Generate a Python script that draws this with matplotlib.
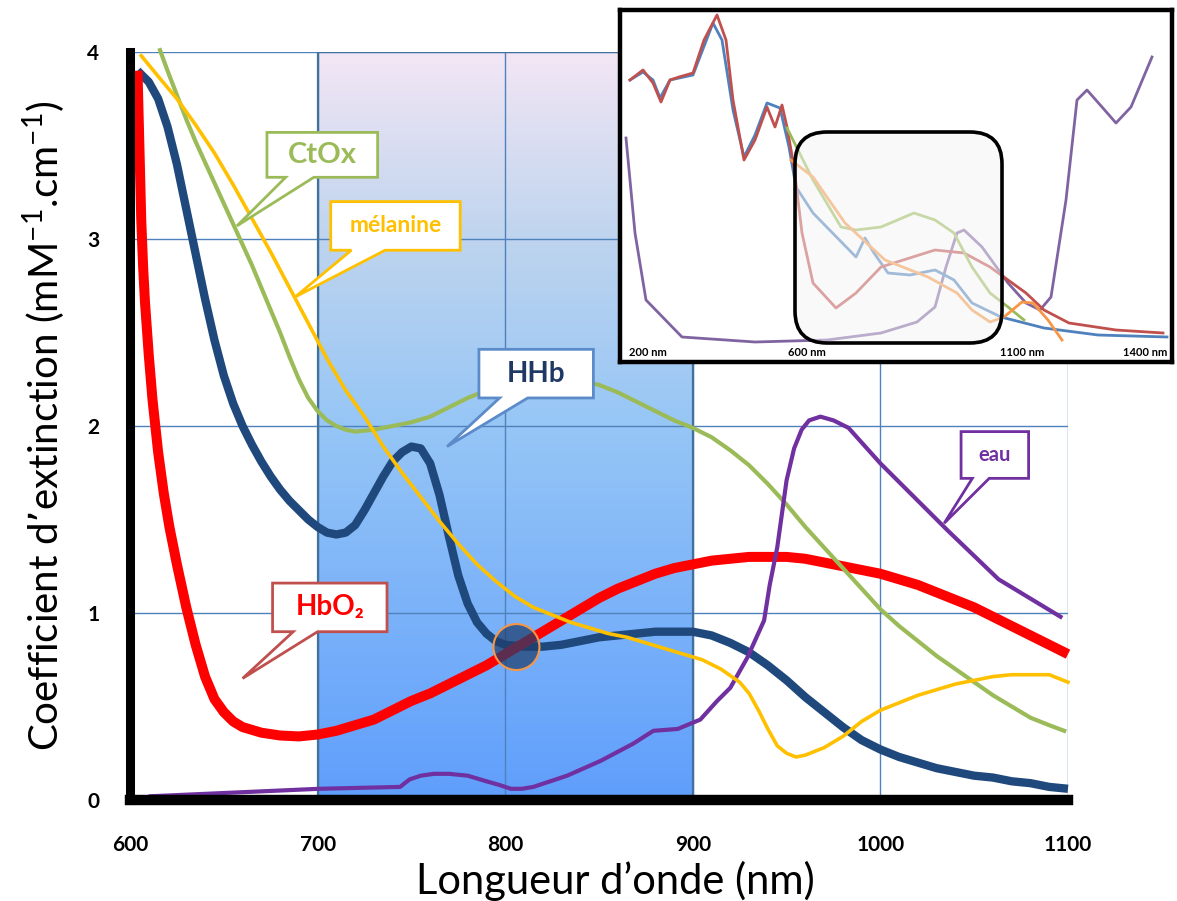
import matplotlib.pyplot as plt
import numpy as np
from matplotlib.patches import Ellipse, Polygon, FancyBboxPatch

plt.rcParams['font.family'] = ['Lato', 'DejaVu Sans']

# ---- main chart data: wavelength (nm) / extinction coefficient (mM-1.cm-1)
hhb_nm = [604, 610, 615, 620, 625, 630, 635, 640, 645, 650, 655, 660, 665, 670, 675, 680, 685, 690,
          695, 700, 705, 710, 715, 720, 725, 730, 735, 740, 745, 750, 755, 760, 765, 770, 775, 780,
          785, 790, 795, 800, 810, 820, 830, 840, 850, 860, 870, 880, 890, 900, 910, 920, 930, 940,
          950, 960, 970, 980, 990, 1000, 1010, 1020, 1030, 1040, 1050, 1060, 1070, 1080, 1090, 1100]
hhb_val = [3.90, 3.84, 3.75, 3.60, 3.40, 3.16, 2.92, 2.68, 2.46, 2.27, 2.12, 2.00, 1.90, 1.81, 1.73,
           1.66, 1.60, 1.55, 1.50, 1.46, 1.43, 1.42, 1.43, 1.47, 1.55, 1.64, 1.73, 1.81, 1.86, 1.89,
           1.88, 1.80, 1.63, 1.41, 1.20, 1.05, 0.95, 0.89, 0.85, 0.83, 0.82, 0.82, 0.83, 0.85, 0.87,
           0.88, 0.89, 0.90, 0.90, 0.90, 0.88, 0.84, 0.79, 0.72, 0.64, 0.55, 0.47, 0.39, 0.32, 0.27,
           0.23, 0.20, 0.17, 0.15, 0.13, 0.12, 0.10, 0.09, 0.07, 0.06]

hbo2_nm = [604, 605, 606, 607, 608, 610, 612, 615, 618, 621, 625, 630, 635, 640, 645, 650, 655, 660,
           670, 680, 690, 700, 710, 720, 730, 740, 750, 760, 770, 780, 790, 800, 810, 820, 830, 840,
           850, 860, 870, 880, 890, 900, 910, 920, 930, 940, 950, 960, 970, 980, 990, 1000, 1010,
           1020, 1030, 1040, 1050, 1060, 1070, 1080, 1090, 1100]
hbo2_val = [3.90, 3.50, 3.10, 2.85, 2.66, 2.38, 2.14, 1.86, 1.64, 1.46, 1.26, 1.03, 0.83, 0.66, 0.54,
            0.47, 0.42, 0.39, 0.36, 0.345, 0.34, 0.35, 0.37, 0.40, 0.43, 0.48, 0.53, 0.57, 0.62,
            0.67, 0.72, 0.78, 0.84, 0.90, 0.96, 1.02, 1.08, 1.13, 1.17, 1.21, 1.24, 1.26, 1.28, 1.29,
            1.30, 1.30, 1.30, 1.29, 1.27, 1.25, 1.23, 1.21, 1.18, 1.15, 1.11, 1.07, 1.03, 0.98, 0.93,
            0.88, 0.83, 0.78]

ctox_nm = [616, 620, 625, 630, 635, 640, 645, 650, 655, 660, 665, 670, 675, 680, 685, 690, 695, 700,
           705, 710, 715, 720, 730, 740, 750, 760, 770, 780, 790, 800, 810, 820, 830, 840, 850, 860,
           870, 880, 890, 900, 910, 920, 930, 940, 950, 960, 970, 980, 990, 1000, 1010, 1020, 1030,
           1040, 1050, 1060, 1070, 1080, 1090, 1098]
ctox_val = [4.01, 3.90, 3.77, 3.64, 3.52, 3.41, 3.30, 3.19, 3.08, 2.97, 2.86, 2.74, 2.62, 2.50, 2.37,
            2.25, 2.15, 2.08, 2.03, 2.00, 1.98, 1.97, 1.98, 2.00, 2.02, 2.05, 2.10, 2.15, 2.19, 2.22,
            2.24, 2.25, 2.25, 2.24, 2.22, 2.18, 2.13, 2.08, 2.03, 1.99, 1.94, 1.87, 1.79, 1.69, 1.58,
            1.46, 1.35, 1.24, 1.13, 1.02, 0.93, 0.85, 0.77, 0.70, 0.63, 0.56, 0.50, 0.44, 0.40, 0.37]

mel_nm = [606, 615, 625, 635, 645, 655, 665, 675, 685, 695, 705, 715, 725, 735, 745, 755, 765, 775,
          785, 795, 805, 815, 825, 835, 845, 855, 865, 875, 885, 895, 905, 915, 925, 930, 935, 940,
          945, 950, 955, 960, 970, 980, 990, 1000, 1010, 1020, 1030, 1040, 1050, 1060, 1070, 1080,
          1090, 1100]
mel_val = [3.98, 3.87, 3.75, 3.61, 3.46, 3.29, 3.11, 2.93, 2.74, 2.55, 2.36, 2.19, 2.05, 1.89, 1.75,
           1.62, 1.49, 1.37, 1.26, 1.17, 1.09, 1.03, 0.99, 0.95, 0.92, 0.89, 0.87, 0.84, 0.81, 0.78,
           0.75, 0.70, 0.63, 0.57, 0.48, 0.38, 0.29, 0.25, 0.23, 0.24, 0.28, 0.34, 0.42, 0.48, 0.52,
           0.56, 0.59, 0.62, 0.64, 0.66, 0.67, 0.67, 0.67, 0.63]

eau_nm = [611, 701, 744, 749, 755, 762, 770, 780, 790, 797, 803, 809, 815, 824, 833, 851, 868, 879,
          892, 904, 913, 920, 929, 938, 941, 945, 950, 954, 958, 962, 968, 975, 983, 1000, 1018,
          1036, 1063, 1096]
eau_val = [0.02, 0.06, 0.07, 0.11, 0.13, 0.14, 0.14, 0.13, 0.10, 0.08, 0.06, 0.06, 0.07, 0.10, 0.13,
           0.21, 0.30, 0.37, 0.38, 0.43, 0.53, 0.60, 0.76, 0.96, 1.15, 1.35, 1.71, 1.88, 1.98, 2.03,
           2.05, 2.03, 1.99, 1.80, 1.62, 1.44, 1.18, 0.98]

x_ticks = [600, 700, 800, 900, 1000, 1100]
y_ticks = [0, 1, 2, 3, 4]
window_nm = [700, 900]

# ---- inset data (relative position units across the inset, 0 = left / bottom)
ins_hbo2_x = [10, 23, 33, 41, 50, 59, 73, 84, 97, 106, 113, 124, 135, 147, 155, 162, 167, 174, 182,
              193, 216, 236, 261, 315, 344, 370, 406, 424, 449, 496, 543]
ins_hbo2_y = [282, 292, 279, 260, 282, 285, 289, 322, 347, 322, 262, 202, 222, 255, 235, 257, 235, 195,
              129, 79, 54, 69, 95, 112, 109, 95, 69, 52, 39, 32, 29]
ins_hhb_x = [10, 23, 33, 40, 50, 73, 93, 102, 113, 124, 135, 147, 160, 169, 176, 193, 236, 245, 254,
             268, 290, 315, 334, 352, 381, 424, 478, 547]
ins_hhb_y = [282, 290, 282, 264, 282, 287, 339, 322, 252, 205, 227, 259, 254, 215, 175, 149, 105, 124,
             109, 89, 87, 92, 82, 59, 45, 34, 27, 25]
ins_ctox_x = [167, 193, 221, 236, 261, 294, 315, 334, 352, 370, 388, 404]
ins_ctox_y = [234, 182, 135, 132, 135, 149, 142, 129, 95, 69, 55, 42]
ins_mel_x = [171, 193, 225, 265, 308, 337, 352, 370, 384, 402, 413, 428, 442]
ins_mel_y = [202, 185, 139, 102, 85, 69, 52, 40, 45, 60, 59, 42, 22]
ins_eau_x = [6, 15, 26, 62, 135, 207, 261, 297, 315, 326, 337, 344, 362, 388, 406, 420, 431, 446, 457,
             467, 482, 496, 511, 532]
ins_eau_y = [224, 129, 62, 25, 20, 22, 29, 40, 55, 95, 129, 132, 115, 79, 59, 52, 65, 162, 262, 272,
             255, 239, 255, 305]
ins_labels = ['200 nm', '600 nm', '1100 nm', '1400 nm']
ins_label_x = [28, 187, 402, 525]

fig = plt.figure(figsize=(11.77, 9.01), dpi=100)
ax = fig.add_axes([130 / 1177, 101 / 901, 938 / 1177, 748 / 901])
ax.set_xlim(600, 1100)
ax.set_ylim(0, 4)

# optical window gradient
stops = np.array([[95, 158, 252], [150, 198, 246], [190, 212, 238], [243, 230, 245]]) / 255
t = np.linspace(0, 1, 256)
grad = np.stack([np.interp(t, [0, 0.5, 0.75, 1], stops[:, k]) for k in range(3)], axis=1)
ax.imshow(grad[:, None, :], extent=[window_nm[0], window_nm[1], 0, 4], origin='lower',
          aspect='auto', zorder=0.5)
ax.plot([window_nm[0], window_nm[0], window_nm[1], window_nm[1]], [0, 4, 4, 0],
        color='#41719c', lw=1.6, zorder=1.2)

ax.set_xticks(x_ticks)
ax.set_yticks(y_ticks)
ax.grid(True, color='#4f81bd', lw=1.0, zorder=1)
ax.set_axisbelow(True)
ax.tick_params(length=0, labelsize=15)
ax.tick_params(axis='x', pad=25)
ax.tick_params(axis='y', pad=22)
for lab in ax.get_xticklabels() + ax.get_yticklabels():
    lab.set_fontweight('bold')

for s in ['top', 'right']:
    ax.spines[s].set_visible(False)
ax.spines['left'].set_linewidth(6.5)
ax.spines['bottom'].set_linewidth(7.5)
for s in ['left', 'bottom']:
    ax.spines[s].set_capstyle('projecting')
    ax.spines[s].set_zorder(8)

ax.plot(hhb_nm, hhb_val, color='#1f497d', lw=6, zorder=2, solid_capstyle='butt', clip_on=False)
ax.plot(hbo2_nm, hbo2_val, color='#ff0000', lw=7.2, zorder=3, solid_capstyle='butt', clip_on=False)
ax.plot(ctox_nm, ctox_val, color='#9bbb59', lw=3, zorder=4, clip_on=False)
ax.plot(eau_nm, eau_val, color='#7030a0', lw=3, zorder=5, clip_on=False)
ax.plot(mel_nm, mel_val, color='#ffc000', lw=2.6, zorder=6, clip_on=False)

ax.add_patch(Ellipse((806, 0.818), 24.5, 0.246, facecolor='#1f3f6e', alpha=0.72,
                     edgecolor='none', zorder=7))
ax.add_patch(Ellipse((806, 0.818), 24.5, 0.246, facecolor='none', edgecolor='#f79646',
                     lw=1.5, zorder=7))


def callout(x0, x1, y0, y1, b0, b1, tip, text, edge, tcolor, size):
    pts = [(x0, y1), (x1, y1), (x1, y0), (b1, y0), tip, (b0, y0), (x0, y0)]
    ax.add_patch(Polygon(pts, closed=True, facecolor='white', edgecolor=edge, lw=2,
                         joinstyle='miter', zorder=9))
    ax.text((x0 + x1) / 2, (y0 + y1) / 2, text, color=tcolor, fontsize=size,
            fontweight='bold', ha='center', va='center', zorder=10)


callout(673, 732, 3.33, 3.57, 683, 698, (657, 3.07), 'CtOx', '#9bbb59', '#9bbb59', 21)
callout(707, 776, 2.94, 3.20, 718, 736, (688, 2.69), 'mélanine', '#ffc000', '#ffc000', 16.5)
callout(786, 847, 2.15, 2.41, 797, 812, (769, 1.89), 'HHb', '#5b8bc9', '#1f3864', 20)
callout(676, 737, 0.90, 1.16, 687, 700, (660, 0.65), 'HbO₂', '#c0504d', '#ff0000', 20)
callout(1043, 1079, 1.72, 1.97, 1049, 1058, (1034, 1.48), 'eau', '#7030a0', '#7030a0', 14.5)

ax.set_xlabel('Longueur d’onde (nm)', fontsize=30, labelpad=2)
ax.xaxis.set_label_coords(0.517, -0.082)
ax.set_ylabel(r'Coefficient d’extinction (mM$^{\mathregular{-1}}$.cm$^{\mathregular{-1}}$)',
              fontsize=29, labelpad=14)

# ---- inset: full spectrum
ins = fig.add_axes([620 / 1177, 539 / 901, 552 / 1177, 352 / 901])
ins.set_xlim(0, 552)
ins.set_ylim(0, 352)
ins.set_xticks([])
ins.set_yticks([])
for s in ins.spines.values():
    s.set_linewidth(3.2)
ins.plot(ins_eau_x, ins_eau_y, color='#8064a2', lw=2, zorder=2)
ins.plot(ins_hhb_x, ins_hhb_y, color='#4f81bd', lw=2, zorder=2)
ins.plot(ins_hbo2_x, ins_hbo2_y, color='#c0504d', lw=2, zorder=3)
ins.plot(ins_ctox_x, ins_ctox_y, color='#9bbb59', lw=2, zorder=3)
ins.plot(ins_mel_x, ins_mel_y, color='#f79646', lw=2, zorder=3)
ins.add_patch(FancyBboxPatch((175, 19), 207, 211, boxstyle='round,pad=0,rounding_size=32',
                             facecolor='#f4f4f4', alpha=0.5, edgecolor='none', zorder=4))
ins.add_patch(FancyBboxPatch((175, 19), 207, 211, boxstyle='round,pad=0,rounding_size=32',
                             facecolor='none', edgecolor='black', lw=2.6, zorder=5))
for lx, lt in zip(ins_label_x, ins_labels):
    ins.text(lx, 10, lt, fontsize=8, fontweight='bold', ha='center', va='center', zorder=6)

fig.savefig('out.png', dpi=100)
